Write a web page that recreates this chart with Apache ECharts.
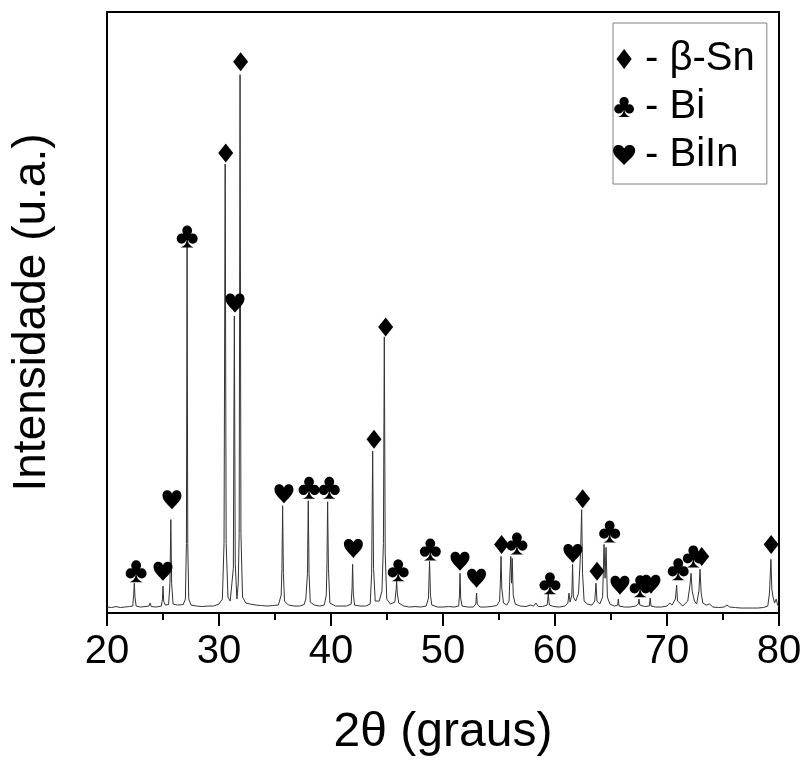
<!DOCTYPE html>
<html>
<head>
<meta charset="utf-8">
<script src="https://cdn.jsdelivr.net/npm/echarts@6/dist/echarts.min.js"></script>
<style>html,body{margin:0;padding:0;background:#fff}#c{width:806px;height:762px}</style>
</head>
<body>
<div id="c"></div>
<script>
// ---- data (2θ in degrees, intensity in arbitrary units) ----
const xRange = [20, 80];
const xStep = 10;
const yRange = [0, 605];

const scanA = [[20.0,6],[20.4,5.5],[20.8,6.5],[21.2,5.5],[21.6,6],[22.0,6.5],[22.3,7],[22.38,18],[22.44,30],[22.5,16],[22.6,7],[23.0,6],[23.4,6.5],[23.75,7],[23.85,10],[23.95,6.5],[24.4,6],[24.85,7],[24.95,14],[25.0,27],[25.06,12],[25.2,8],[25.5,8.5],[25.62,30],[25.7,94],[25.77,30],[25.9,9],[26.3,8],[26.8,8.5],[27.0,14],[27.09,70],[27.15,369],[27.21,70],[27.3,14],[27.5,8],[28.0,7],[28.5,6.5],[29.0,7],[29.5,7],[30.0,9],[30.3,14],[30.45,70],[30.55,452],[30.64,70],[30.8,16],[31.0,12],[31.1,14],[31.28,45],[31.37,299],[31.45,50],[31.6,14],[31.72,30],[31.8,80],[31.88,542],[31.96,80],[32.1,16],[32.4,10],[32.8,9]];
const scanB = [[33.3,8],[33.8,7.5],[34.3,7],[34.8,7.5],[35.3,8],[35.55,18],[35.62,45],[35.68,108],[35.75,40],[35.85,12],[36.2,8],[36.7,7],[37.2,7],[37.6,8.5],[37.75,14],[37.9,40],[37.97,113],[38.04,40],[38.15,11],[38.5,8],[39.0,7],[39.4,8],[39.58,18],[39.64,50],[39.7,112],[39.77,45],[39.9,10],[40.4,7],[40.9,7],[41.4,7],[41.8,9],[41.88,25],[41.93,49],[41.99,20],[42.1,8],[42.6,7],[43.1,7],[43.5,9],[43.63,40],[43.72,163],[43.8,45],[43.95,12],[44.3,12],[44.55,22],[44.68,70],[44.76,278],[44.84,60],[44.98,14],[45.3,9],[45.7,11],[45.82,24],[45.86,32],[45.92,20],[46.05,10],[46.5,7],[47.0,6],[47.5,6.5],[48.0,6],[48.5,7],[48.7,15],[48.8,52],[48.88,18],[49.0,8],[49.5,6],[50.0,6],[50.5,6.5],[51.0,6],[51.4,7],[51.47,18],[51.52,40],[51.58,15],[51.7,7],[52.2,6],[52.7,6],[52.93,9],[53.0,20],[53.06,9],[53.3,6],[53.8,6],[54.3,6.5],[54.8,7.5]];
const scanC = [[55.05,12],[55.12,30],[55.18,57],[55.25,25],[55.4,10],[55.7,8],[55.9,12],[55.98,40],[56.05,57],[56.12,30],[56.18,55],[56.27,18],[56.45,9],[56.9,7],[57.4,6.5],[57.8,8],[57.95,10],[58.1,7],[58.3,10],[58.5,6.5],[58.9,6.5],[59.3,8],[59.4,19],[59.5,8],[59.9,6.5],[60.4,6],[60.9,7],[61.15,10],[61.25,20],[61.35,11],[61.5,18],[61.57,49],[61.64,16],[61.85,12],[62.1,20],[62.28,60],[62.38,104],[62.46,40],[62.6,12],[62.9,9],[63.3,8],[63.55,12],[63.66,30],[63.75,12],[64.0,9],[64.25,16],[64.38,69],[64.47,35],[64.56,66],[64.68,16],[64.9,9],[65.3,7],[65.6,8],[65.65,14],[65.72,7],[66.2,6],[66.7,6],[67.2,7],[67.43,9],[67.5,14],[67.57,8],[68.0,6.5],[68.42,7],[68.5,15],[68.57,7],[69.0,6],[69.5,6],[70.0,7],[70.25,10],[70.45,8],[70.75,14],[70.86,28],[70.94,12],[71.15,10],[71.4,7],[71.85,12],[72.05,28],[72.15,40],[72.25,22],[72.45,12],[72.65,9],[72.85,22],[72.95,44],[73.05,20],[73.2,10],[73.5,8],[73.8,9],[74.1,6],[74.6,5.5],[75.1,6],[75.35,8],[75.6,6],[76.1,5.5],[76.6,5],[77.1,5],[77.6,5],[78.1,5],[78.6,5.5],[79.0,7],[79.15,20],[79.28,54],[79.36,24],[79.47,16],[79.6,10],[79.75,14],[79.88,8],[80.0,6]];

// phase markers (position of each marker symbol)
const snMarks   = [[30.6,463],[31.93,555],[43.84,175],[44.88,288],[55.23,69],[62.47,115],[63.75,42],[73.1,57],[79.3,69]];
const biMarks   = [[22.6,42],[27.16,379],[38.04,126],[39.85,126],[46.0,43],[48.87,64],[56.6,70],[59.55,30],[64.88,82],[67.6,27],[71.0,44],[72.35,57]];
const biinMarks = [[25.0,42],[25.8,114],[31.43,312],[35.8,120],[42.0,65],[51.52,52],[53.0,35],[61.6,60],[65.8,28],[68.57,29]];

const phaseNames = ['- β-Sn', '- Bi', '- BiIn'];
const xName = '2θ (graus)';
const yName = 'Intensidade (u.a.)';

// ---- symbols ----
const DIAMOND = 'path://M50,0L100,50L50,100L0,50Z';
const DIAMOND_L = 'path://M38,0L76,50L38,100L0,50Z';
const HEART = 'path://M50,100C35,80 0,55 0,27C0,10 12,0 26,0C38,0 46,8 50,18C54,8 62,0 74,0C88,0 100,10 100,27C100,55 65,80 50,100Z';
const HEART_L = 'path://M50,90C35,72 0,50 0,25C0,9 12,0 26,0C38,0 46,7 50,16C54,7 62,0 74,0C88,0 100,9 100,25C100,50 65,72 50,90Z';
const CLUB = 'path://M27,24a23,23 0 1,0 46,0a23,23 0 1,0 -46,0Z M1,60a23,23 0 1,0 46,0a23,23 0 1,0 -46,0Z M53,60a23,23 0 1,0 46,0a23,23 0 1,0 -46,0Z M36,52a14,14 0 1,0 28,0a14,14 0 1,0 -28,0Z M46,50L47,70Q44,90 20,100L80,100Q56,90 53,70L54,50Z';

const FONT = '"Liberation Sans", Arial, sans-serif';
const chart = echarts.init(document.getElementById('c'), null, {renderer: 'canvas'});

const frameAxis = {
  axisLine: {show: true, onZero: false, lineStyle: {color: '#000', width: 2}},
  axisTick: {show: false}, axisLabel: {show: false}, splitLine: {show: false}
};

chart.setOption({
  animation: false,
  backgroundColor: '#fff',
  grid: {left: 107, right: 27, top: 12, bottom: 145, containLabel: false},
  xAxis: [{
    type: 'value', min: xRange[0], max: xRange[1], interval: xStep, position: 'bottom',
    axisLine: {show: true, onZero: false, lineStyle: {color: '#000', width: 2}},
    axisTick: {show: true, inside: false, length: 13, lineStyle: {color: '#000', width: 2}},
    minorTick: {show: true, splitNumber: 2, length: 7, lineStyle: {color: '#000', width: 2}},
    axisLabel: {fontSize: 40, color: '#000', fontFamily: FONT, margin: 19},
    splitLine: {show: false}, minorSplitLine: {show: false},
    name: xName, nameLocation: 'middle', nameGap: 96,
    nameTextStyle: {fontSize: 48, color: '#000', fontFamily: FONT}
  }, Object.assign({type: 'value', min: xRange[0], max: xRange[1], position: 'top'}, frameAxis)],
  yAxis: [{
    type: 'value', min: yRange[0], max: yRange[1], position: 'left',
    axisLine: {show: true, onZero: false, lineStyle: {color: '#000', width: 2}},
    axisTick: {show: false}, axisLabel: {show: false}, splitLine: {show: false},
    name: yName, nameLocation: 'middle', nameRotate: 90, nameGap: 52,
    nameTextStyle: {fontSize: 46, color: '#000', fontFamily: FONT}
  }, Object.assign({type: 'value', min: yRange[0], max: yRange[1], position: 'right'}, frameAxis)],
  legend: {
    orient: 'vertical', left: 613, top: 23,
    padding: [16, 12, 9, 0],
    borderColor: '#808080', borderWidth: 1,
    itemWidth: 32, itemHeight: 20, itemGap: 8,
    selectedMode: false,
    textStyle: {fontSize: 40, lineHeight: 40, color: '#000', fontFamily: FONT},
    data: [
      {name: phaseNames[0], icon: DIAMOND_L, itemStyle: {color: '#000', opacity: 1}},
      {name: phaseNames[1], icon: CLUB, itemStyle: {color: '#000', opacity: 1}},
      {name: phaseNames[2], icon: HEART_L, itemStyle: {color: '#000', opacity: 1}}
    ]
  },
  series: [
    {
      type: 'line', name: 'XRD', data: scanA.concat(scanB, scanC),
      showSymbol: false, symbol: 'none', smooth: false,
      lineStyle: {color: '#333', width: 1}, z: 2, silent: true
    },
    {type: 'scatter', name: phaseNames[0], data: snMarks, symbol: DIAMOND, symbolSize: [15, 19],
     itemStyle: {color: '#000', opacity: 1}, z: 5},
    {type: 'scatter', name: phaseNames[1], data: biMarks, symbol: CLUB, symbolSize: [21, 22],
     itemStyle: {color: '#000', opacity: 1}, z: 5},
    {type: 'scatter', name: phaseNames[2], data: biinMarks, symbol: HEART, symbolSize: [19, 19],
     itemStyle: {color: '#000', opacity: 1}, z: 5}
  ]
});
</script>
</body>
</html>
